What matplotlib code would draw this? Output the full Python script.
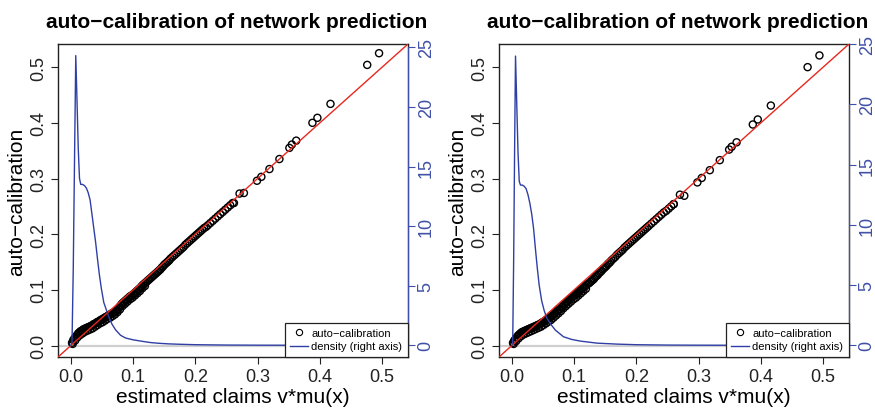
import matplotlib
matplotlib.use("Agg")
import matplotlib.pyplot as plt
from matplotlib.lines import Line2D

plt.rcParams['font.family'] = ['Liberation Sans', 'DejaVu Sans']

# ---- estimated claims of the dense band (shared x for both panels) ----
claims_band = [0.002, 0.004, 0.006, 0.008, 0.010, 0.012, 0.014, 0.016, 0.018, 0.020,
               0.022, 0.024, 0.026, 0.028, 0.030, 0.032, 0.034, 0.036, 0.038, 0.040,
               0.042, 0.044, 0.046, 0.048, 0.050, 0.052, 0.054, 0.056, 0.058, 0.060,
               0.062, 0.064, 0.066, 0.068, 0.070, 0.072, 0.074, 0.076, 0.078, 0.080,
               0.082, 0.084, 0.086, 0.088, 0.090, 0.092, 0.094, 0.096, 0.098, 0.100,
               0.102, 0.104, 0.106, 0.108, 0.110, 0.112, 0.114, 0.116, 0.118, 0.120,
               0.122, 0.124, 0.126, 0.128, 0.130, 0.132, 0.134, 0.136, 0.138, 0.140,
               0.142, 0.144, 0.146, 0.148, 0.150, 0.152, 0.154, 0.156, 0.158, 0.160,
               0.163, 0.166, 0.169, 0.172, 0.175, 0.178, 0.181, 0.184, 0.187, 0.190,
               0.193, 0.196, 0.199, 0.202, 0.205, 0.208, 0.211, 0.214, 0.217, 0.220,
               0.224, 0.228, 0.232, 0.236, 0.240, 0.244, 0.248, 0.252, 0.256, 0.260]
claims_band2 = [0.003, 0.007, 0.011, 0.015, 0.019, 0.023, 0.027, 0.031, 0.035, 0.039,
                0.043, 0.047, 0.051, 0.055, 0.059, 0.063, 0.067, 0.071, 0.075, 0.079,
                0.083, 0.087, 0.091, 0.095, 0.099, 0.103, 0.107, 0.111, 0.115, 0.119]

# ---- left panel ----
calib_band_left = [0.005, 0.010, 0.013, 0.016, 0.019, 0.022, 0.024, 0.026, 0.027, 0.029,
                   0.030, 0.031, 0.032, 0.033, 0.034, 0.035, 0.036, 0.038, 0.039, 0.040,
                   0.042, 0.043, 0.044, 0.046, 0.047, 0.048, 0.050, 0.051, 0.052, 0.054,
                   0.055, 0.056, 0.058, 0.059, 0.060, 0.062, 0.063, 0.066, 0.069, 0.072,
                   0.075, 0.077, 0.079, 0.081, 0.083, 0.085, 0.087, 0.089, 0.090, 0.092,
                   0.094, 0.096, 0.098, 0.100, 0.102, 0.104, 0.107, 0.109, 0.111, 0.113,
                   0.115, 0.117, 0.119, 0.121, 0.123, 0.125, 0.127, 0.129, 0.131, 0.133,
                   0.135, 0.137, 0.140, 0.142, 0.145, 0.147, 0.149, 0.151, 0.153, 0.156,
                   0.159, 0.162, 0.165, 0.168, 0.171, 0.174, 0.177, 0.181, 0.184, 0.187,
                   0.190, 0.193, 0.196, 0.199, 0.202, 0.205, 0.208, 0.211, 0.213, 0.216,
                   0.220, 0.224, 0.228, 0.232, 0.236, 0.240, 0.244, 0.248, 0.252, 0.256]
calib_band2_left = [0.003, 0.009, 0.015, 0.019, 0.022, 0.025, 0.027, 0.029, 0.031, 0.034,
                    0.037, 0.040, 0.042, 0.045, 0.048, 0.050, 0.053, 0.056, 0.060, 0.065,
                    0.071, 0.075, 0.079, 0.083, 0.086, 0.090, 0.094, 0.098, 0.103, 0.107]
claims_tail_left = [0.262, 0.271, 0.278, 0.299, 0.306, 0.319, 0.335, 0.351, 0.355, 0.362,
                    0.388, 0.396, 0.417, 0.476, 0.495]
calib_tail_left = [0.256, 0.273, 0.274, 0.296, 0.303, 0.317, 0.335, 0.355, 0.361, 0.368,
                   0.400, 0.409, 0.434, 0.504, 0.525]

dens_x_left = [0.0, 0.002, 0.004, 0.006, 0.008, 0.010, 0.012, 0.014, 0.016, 0.019,
               0.022, 0.025, 0.028, 0.031, 0.034, 0.037, 0.040, 0.043, 0.046, 0.049,
               0.053, 0.057, 0.061, 0.066, 0.072, 0.080, 0.088, 0.100, 0.114, 0.128,
               0.141, 0.157, 0.173, 0.200, 0.250, 0.300, 0.400, 0.500]
dens_y_left = [0.0, 0.3, 6.5, 15.5, 24.3, 20.5, 16.5, 14.0, 13.5, 13.5,
               13.4, 13.2, 12.8, 12.2, 11.0, 9.8, 8.6, 7.2, 5.9, 4.8,
               3.6, 3.0, 2.4, 1.8, 1.3, 0.85, 0.62, 0.47, 0.35, 0.24,
               0.18, 0.13, 0.10, 0.06, 0.03, 0.02, 0.01, 0.005]

# ---- right panel ----
calib_band_right = [0.005, 0.009, 0.012, 0.015, 0.018, 0.020, 0.022, 0.024, 0.025, 0.026,
                    0.027, 0.028, 0.029, 0.030, 0.031, 0.032, 0.033, 0.034, 0.035, 0.036,
                    0.037, 0.038, 0.039, 0.041, 0.042, 0.043, 0.045, 0.046, 0.048, 0.050,
                    0.051, 0.053, 0.055, 0.057, 0.059, 0.061, 0.063, 0.065, 0.066, 0.069,
                    0.071, 0.074, 0.076, 0.078, 0.080, 0.082, 0.084, 0.086, 0.088, 0.090,
                    0.091, 0.093, 0.095, 0.097, 0.099, 0.101, 0.103, 0.105, 0.107, 0.109,
                    0.111, 0.112, 0.114, 0.116, 0.118, 0.120, 0.123, 0.125, 0.127, 0.130,
                    0.132, 0.134, 0.137, 0.139, 0.141, 0.143, 0.146, 0.148, 0.150, 0.153,
                    0.156, 0.159, 0.163, 0.166, 0.169, 0.172, 0.176, 0.179, 0.182, 0.185,
                    0.188, 0.191, 0.194, 0.197, 0.200, 0.203, 0.206, 0.209, 0.212, 0.215,
                    0.219, 0.223, 0.227, 0.231, 0.235, 0.239, 0.242, 0.246, 0.250, 0.254]
calib_band2_right = [0.003, 0.008, 0.013, 0.017, 0.020, 0.022, 0.024, 0.026, 0.028, 0.030,
                     0.032, 0.034, 0.037, 0.040, 0.043, 0.046, 0.050, 0.054, 0.058, 0.062,
                     0.067, 0.071, 0.075, 0.079, 0.083, 0.086, 0.090, 0.094, 0.098, 0.102]
claims_tail_right = [0.260, 0.270, 0.277, 0.298, 0.305, 0.318, 0.334, 0.349, 0.353, 0.361,
                     0.387, 0.395, 0.416, 0.475, 0.494]
calib_tail_right = [0.254, 0.271, 0.269, 0.293, 0.301, 0.315, 0.333, 0.352, 0.357, 0.365,
                    0.397, 0.406, 0.431, 0.500, 0.521]

dens_x_right = [0.0, 0.0015, 0.003, 0.0045, 0.006, 0.008, 0.010, 0.012, 0.014, 0.017,
                0.020, 0.023, 0.026, 0.029, 0.032, 0.035, 0.038, 0.041, 0.044, 0.048,
                0.052, 0.056, 0.062, 0.070, 0.083, 0.096, 0.110, 0.137, 0.169, 0.200,
                0.250, 0.300, 0.400, 0.500]
dens_y_right = [0.0, 0.3, 7.0, 16.0, 24.0, 20.0, 16.0, 13.6, 13.3, 13.3,
                13.2, 13.0, 12.5, 11.8, 10.9, 9.7, 8.0, 6.4, 5.0, 3.7,
                2.9, 2.3, 1.8, 1.27, 0.72, 0.50, 0.36, 0.19, 0.11, 0.06,
                0.03, 0.02, 0.01, 0.005]

title = "auto\u2212calibration of network prediction"
ticks_left = [0.0, 0.1, 0.2, 0.3, 0.4, 0.5]
ticks_right = [0, 5, 10, 15, 20, 25]
blue = '#2f3fa6'
tick_blue = '#4050a8'


def panel(ax, xs, ys, dens_x, dens_y):
    lim = (-0.0205, 0.5415)
    ax.axhline(0, color='#cfcfcf', lw=1.6, zorder=1)
    for x, y in zip(xs, ys):
        ax.scatter(x, y, s=26, facecolors='none', edgecolors='black',
                   linewidths=1.0, zorder=2)
    ax.axline((0, 0), slope=1, color='#e8281e', lw=1.0, zorder=3)
    ax.set_xlim(lim)
    ax.set_ylim(lim)
    ax.set_xticks(ticks_left)
    ax.set_yticks(ticks_left)
    ax.set_xticklabels([f'{t:.1f}' for t in ticks_left])
    ax.set_yticklabels([f'{t:.1f}' for t in ticks_left])
    ax.tick_params(axis='both', labelsize=13, length=5, width=0.8, colors='#222222')
    ax.tick_params(axis='x', pad=3)
    ax.tick_params(axis='y', pad=3, labelrotation=90)
    for lbl in ax.get_yticklabels():
        lbl.set_va('center')
    for sp in ax.spines.values():
        sp.set_linewidth(1.0)
        sp.set_color('#222222')
    ax.set_xlabel("estimated claims v*mu(x)", fontsize=15, labelpad=1)
    ax.set_ylabel("auto\u2212calibration", fontsize=15, labelpad=3)
    ax.set_title(title, fontsize=15, fontweight='bold', pad=12, x=0.51)

    ax2 = ax.twinx()
    ax2.plot(dens_x, dens_y, color=blue, lw=1.0)
    top = max(dens_y)
    ax2.set_ylim(-0.04 * top, 1.04 * top)
    ax2.set_yticks(ticks_right)
    ax2.set_yticklabels([str(t) for t in ticks_right])
    ax2.tick_params(axis='y', labelsize=13, length=5, width=0.8, colors=tick_blue,
                    pad=2, labelrotation=90)
    for lbl in ax2.get_yticklabels():
        lbl.set_va('center')
    for name in ['left', 'top', 'bottom']:
        ax2.spines[name].set_visible(False)
    ax2.spines['right'].set_color(tick_blue)
    shown = [t for t in ticks_right if t <= 1.04 * top]
    ax2.spines['right'].set_bounds(0, shown[-1])

    handles = [Line2D([], [], marker='o', markersize=4.5, markerfacecolor='none',
                      markeredgecolor='black', markeredgewidth=0.8, linestyle='none'),
               Line2D([], [], color=blue, lw=1.0)]
    leg = ax2.legend(handles, ["auto\u2212calibration", "density (right axis)"],
                     loc='lower right', borderaxespad=0, fontsize=8, fancybox=False,
                     framealpha=1, edgecolor='#222222', handlelength=1.6,
                     handletextpad=0.3, borderpad=0.5, labelspacing=0.3)
    leg.get_frame().set_linewidth(0.9)


fig = plt.figure(figsize=(8.75, 4.1), dpi=100)
ax_l = fig.add_axes([0.0663, 0.1268, 0.4, 0.7634])
ax_r = fig.add_axes([0.5703, 0.1268, 0.4, 0.7634])

panel(ax_l,
      [claims_band, claims_band2, claims_tail_left],
      [calib_band_left, calib_band2_left, calib_tail_left],
      dens_x_left, dens_y_left)
panel(ax_r,
      [claims_band, claims_band2, claims_tail_right],
      [calib_band_right, calib_band2_right, calib_tail_right],
      dens_x_right, dens_y_right)

fig.savefig('out.png', dpi=100)
